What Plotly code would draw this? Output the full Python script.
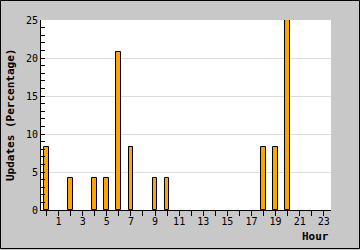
import plotly.graph_objects as go

hours = list(range(24))
updates = [8.33, 0, 4.17, 0, 4.17, 4.17, 20.83, 8.33, 0, 4.17, 4.17, 0,
           0, 0, 0, 0, 0, 0, 8.33, 8.33, 25.0, 0, 0, 0]
x_tick_vals = [1, 3, 5, 7, 9, 11, 13, 15, 17, 19, 21, 23]
x_tick_text = [str(v) for v in x_tick_vals]
y_tick_vals = [0, 5, 10, 15, 20, 25]

W, H = 360, 250
L, R, T, B = 41, 29, 20, 40
pw, ph = W - L - R, H - T - B

mono = "DejaVu Sans Mono"

outline_w = [1 if v > 0 else 0 for v in updates]

fig = go.Figure()
fig.add_trace(go.Bar(
    x=hours, y=updates, width=0.4,
    marker=dict(color="#ffa500", line=dict(color="#000000", width=outline_w)),
    hoverinfo="skip",
))

fig.update_layout(
    width=W, height=H,
    margin=dict(l=L, r=R, t=T, b=B, autoexpand=False),
    paper_bgcolor="#c8c8c8",
    plot_bgcolor="#ffffff",
    showlegend=False,
    bargap=0,
    xaxis=dict(
        range=[-0.46, 23.6],
        tickmode="array", tickvals=x_tick_vals, ticktext=x_tick_text,
        ticks="outside", ticklen=5, tickcolor="#000000", tickwidth=1,
        minor=dict(dtick=1, tick0=0, ticks="outside", ticklen=5,
                   tickcolor="#000000", tickwidth=1, showgrid=False),
        showline=True, linecolor="#000000", linewidth=1,
        showgrid=False, zeroline=False, automargin=False,
        ticklabelstandoff=-3,
        tickfont=dict(family=mono, size=10, color="#000000"),
        fixedrange=True,
    ),
    yaxis=dict(
        range=[0, 25],
        tickmode="array", tickvals=y_tick_vals,
        ticks="inside", ticklen=4, tickcolor="#000000", tickwidth=1,
        minor=dict(dtick=1, tick0=0, ticks="inside", ticklen=4,
                   tickcolor="#000000", tickwidth=1, showgrid=False),
        showline=True, linecolor="#000000", linewidth=1,
        showgrid=True, gridcolor="#dcdcdc", gridwidth=1,
        zeroline=False, automargin=False,
        tickfont=dict(family=mono, size=10, color="#000000"),
        fixedrange=True,
    ),
    annotations=[
        dict(
            text="<b>Hour</b>", xref="paper", yref="paper",
            x=1, y=-(236 - T - ph) / ph, xanchor="right", yanchor="middle",
            showarrow=False, font=dict(family=mono, size=11, color="#000000"),
        ),
        dict(
            text="<b>Updates (Percentage)</b>", xref="paper", yref="paper",
            x=-(L - 10) / pw, y=0.5, xanchor="center", yanchor="middle",
            textangle=-90, showarrow=False,
            font=dict(family=mono, size=11, color="#000000"),
        ),
    ],
    shapes=[dict(
        type="rect", xref="paper", yref="paper",
        x0=-(L - 0.5) / pw, x1=1 + (R - 0.5) / pw,
        y0=-(B - 1.5) / ph, y1=1 + (T - 0.5) / ph,
        line=dict(color="#000000", width=1), fillcolor="rgba(0,0,0,0)",
        layer="above",
    )],
)

fig.write_html("out.html", config={"displayModeBar": False})
